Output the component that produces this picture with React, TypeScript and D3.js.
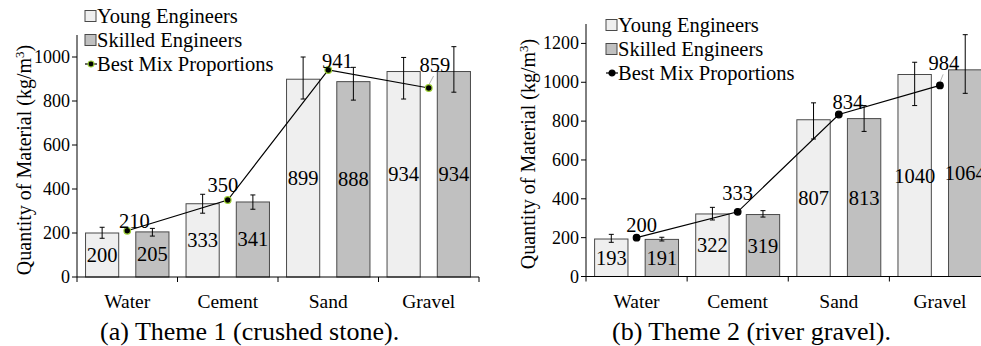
import React from "react";
import * as d3 from "d3";

const categories = ["Water", "Cement", "Sand", "Gravel"];
const seriesNames = ["Young Engineers", "Skilled Engineers"];
const lineName = "Best Mix Proportions";

// theme 1 (crushed stone)
const t1Young = [200, 333, 899, 934];
const t1Skilled = [205, 341, 888, 934];
const t1Best = [210, 350, 941, 859];
const t1YoungErr = [[176, 226], [290, 376], [809, 1000], [809, 998]];
const t1SkilledErr = [[186, 221], [308, 373], [804, 953], [840, 1047]];
const t1Ticks = [0, 200, 400, 600, 800, 1000];

// theme 2 (river gravel)
const t2Young = [193, 322, 807, 1040];
const t2Skilled = [191, 319, 813, 1064];
const t2Best = [200, 333, 834, 984];
const t2YoungErr = [[176, 217], [291, 356], [708, 894], [880, 1103]];
const t2SkilledErr = [[183, 202], [306, 339], [747, 880], [943, 1245]];
const t2Ticks = [0, 200, 400, 600, 800, 1000, 1200];

const captions = ["(a) Theme 1 (crushed stone).", "(b) Theme 2 (river gravel)."];

const FONT = "Liberation Serif";
const fills = ["#efefef", "#c0c0c0"];
const barStroke = "#4a4a4a";

type PanelProps = {
  young: number[];
  skilled: number[];
  best: number[];
  youngErr: number[][];
  skilledErr: number[][];
  ticks: number[];
  yMax: number;
  left: number;
  right: number;
  top: number;
  bottom: number;
  titleX: number;
  titleY: number;
  legendX: number;
  legendY: number;
  markerStroke: string;
  labelNudge: number[][];
  caption: string;
  captionX: number;
};

function Panel(p: PanelProps) {
  const x = d3.scaleBand<string>().domain(categories).range([p.left, p.right]);
  const inner = d3
    .scaleBand<string>()
    .domain(seriesNames)
    .range([0, x.bandwidth()])
    .paddingInner(0.34)
    .paddingOuter(0.17);
  const y = d3.scaleLinear().domain([0, p.yMax]).range([p.bottom, p.top]);
  const values = [p.young, p.skilled];
  const errs = [p.youngErr, p.skilledErr];
  const cx = (c: string) => (x(c) as number) + x.bandwidth() / 2;
  const line = d3
    .line<number>()
    .x((_, i) => cx(categories[i]))
    .y((d) => y(d));

  return (
    <g>
      {/* bars */}
      {seriesNames.map((s, si) =>
        categories.map((c, ci) => {
          const bx = (x(c) as number) + (inner(s) as number);
          const v = values[si][ci];
          return (
            <g key={s + c}>
              <rect
                x={bx}
                y={y(v)}
                width={inner.bandwidth()}
                height={p.bottom - y(v)}
                fill={fills[si]}
                stroke={barStroke}
                strokeWidth={1}
              />
              <text
                x={bx + inner.bandwidth() / 2}
                y={(y(v) + p.bottom) / 2 + 7}
                fontFamily={FONT}
                fontSize={20.5}
                textAnchor="middle"
              >
                {v}
              </text>
            </g>
          );
        })
      )}
      {/* error bars */}
      {seriesNames.map((s, si) =>
        categories.map((c, ci) => {
          const ex = (x(c) as number) + (inner(s) as number) + inner.bandwidth() / 2;
          const [lo, hi] = errs[si][ci];
          return (
            <g key={"e" + s + c} stroke="#000" strokeWidth={1}>
              <line x1={ex} x2={ex} y1={y(lo)} y2={y(hi)} />
              <line x1={ex - 2.5} x2={ex + 2.5} y1={y(lo)} y2={y(lo)} />
              <line x1={ex - 2.5} x2={ex + 2.5} y1={y(hi)} y2={y(hi)} />
            </g>
          );
        })
      )}
      {/* axes */}
      <line x1={p.left} x2={p.left} y1={p.top} y2={p.bottom} stroke="#000" />
      <line x1={p.left} x2={p.right} y1={p.bottom} y2={p.bottom} stroke="#000" />
      {p.ticks.map((t) => (
        <g key={t}>
          <line x1={p.left - 5} x2={p.left} y1={y(t)} y2={y(t)} stroke="#000" />
          <text
            x={p.left - 7}
            y={y(t) + 6}
            fontFamily={FONT}
            fontSize={18}
            textAnchor="end"
          >
            {t}
          </text>
        </g>
      ))}
      {categories.map((c) => (
        <g key={c}>
          <line x1={x(c)} x2={x(c)} y1={p.bottom} y2={p.bottom + 5} stroke="#000" />
          <text x={cx(c)} y={p.bottom + 31} fontFamily={FONT} fontSize={19.5} textAnchor="middle">
            {c}
          </text>
        </g>
      ))}
      <line x1={p.right} x2={p.right} y1={p.bottom} y2={p.bottom + 5} stroke="#000" />
      {/* y title */}
      <text
        transform={`translate(${p.titleX},${p.titleY}) rotate(-90)`}
        fontFamily={FONT}
        fontSize={20}
        textAnchor="middle"
      >
        Quantity of Material (kg/m
        <tspan dy={-7} fontSize={13}>
          3
        </tspan>
        <tspan dy={7}>)</tspan>
      </text>
      {/* best mix line */}
      <path d={line(p.best) || ""} fill="none" stroke="#000" strokeWidth={1.2} />
      {p.best.map((v, i) => {
        const px = cx(categories[i]);
        const py = y(v);
        const [dx, dy] = p.labelNudge[i];
        return (
          <g key={"b" + i}>
            {dy < -20 && (
              <line
                x1={px + dx * 0.8}
                x2={px}
                y1={py + dy + 11}
                y2={py - 3}
                stroke="#a0a0a0"
                strokeWidth={0.8}
              />
            )}
            <circle cx={px} cy={py} r={3.3} fill="#000" stroke={p.markerStroke} strokeWidth={1.2} />
            <text
              x={px + dx}
              y={py + dy + 7}
              fontFamily={FONT}
              fontSize={20.5}
              textAnchor="middle"
            >
              {v}
            </text>
          </g>
        );
      })}
      {/* legend */}
      {seriesNames.map((s, i) => (
        <g key={"l" + s} transform={`translate(${p.legendX},${p.legendY + i * 24})`}>
          <rect x={0} y={-5.5} width={11} height={11} fill={fills[i]} stroke={barStroke} />
          <text x={12} y={7} fontFamily={FONT} fontSize={20.5}>
            {s}
          </text>
        </g>
      ))}
      <g transform={`translate(${p.legendX},${p.legendY + 48})`}>
        <line x1={0} x2={12} y1={0} y2={0} stroke="#000" strokeWidth={1.2} />
        <circle cx={6} cy={0} r={3} fill="#000" stroke={p.markerStroke} strokeWidth={1.2} />
        <text x={12} y={7} fontFamily={FONT} fontSize={20.5}>
          {lineName}
        </text>
      </g>
      {/* caption */}
      <text x={p.captionX} y={340} fontFamily={FONT} fontSize={26}>
        {p.caption}
      </text>
    </g>
  );
}

export default function App() {
  return (
    <svg
      width={981}
      height={346}
      fontFamily={FONT}
      style={{ position: "absolute", left: 0, top: 0, background: "#fff" }}
    >
      <rect width={981} height={346} fill="#fff" />
      <Panel
        young={t1Young}
        skilled={t1Skilled}
        best={t1Best}
        youngErr={t1YoungErr}
        skilledErr={t1SkilledErr}
        ticks={t1Ticks}
        yMax={1100}
        left={77}
        right={479}
        top={35}
        bottom={277}
        titleX={31}
        titleY={160}
        legendX={85}
        legendY={16}
        markerStroke="#9acd32"
        labelNudge={[[7, -10], [-5, -15], [9, -9], [6, -23]]}
        caption={captions[0]}
        captionX={100}
      />
      <Panel
        young={t2Young}
        skilled={t2Skilled}
        best={t2Best}
        youngErr={t2YoungErr}
        skilledErr={t2SkilledErr}
        ticks={t2Ticks}
        yMax={1300}
        left={586}
        right={990.5}
        top={24}
        bottom={276.5}
        titleX={535}
        titleY={154}
        legendX={606}
        legendY={25}
        markerStroke="#000"
        labelNudge={[[5, -13], [0, -19], [9, -13], [4, -22]]}
        caption={captions[1]}
        captionX={612}
      />
    </svg>
  );
}
